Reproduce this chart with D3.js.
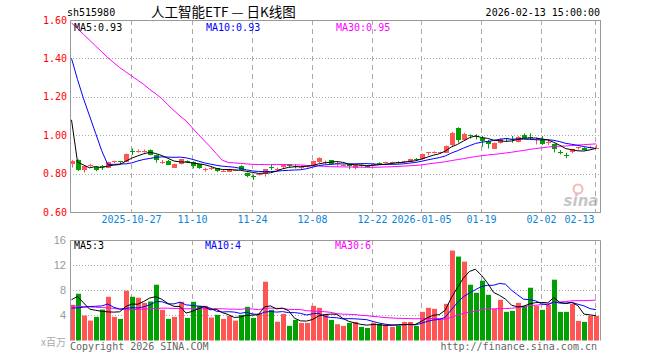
<!DOCTYPE html>
<html><head><meta charset="utf-8">
<script src="https://cdn.jsdelivr.net/npm/d3@7/dist/d3.min.js"></script>
<style>body{margin:0;background:#fff}</style>
</head><body><svg id="c" width="660" height="360"></svg>
<script>
const dates = [
"2025-10-13","2025-10-14","2025-10-15","2025-10-16","2025-10-17","2025-10-20","2025-10-21","2025-10-22","2025-10-23","2025-10-24",
"2025-10-27","2025-10-28","2025-10-29","2025-10-30","2025-10-31","2025-11-03","2025-11-04","2025-11-05","2025-11-06","2025-11-07",
"2025-11-10","2025-11-11","2025-11-12","2025-11-13","2025-11-14","2025-11-17","2025-11-18","2025-11-19","2025-11-20","2025-11-21",
"2025-11-24","2025-11-25","2025-11-26","2025-11-27","2025-11-28","2025-12-01","2025-12-02","2025-12-03","2025-12-04","2025-12-05",
"2025-12-08","2025-12-09","2025-12-10","2025-12-11","2025-12-12","2025-12-15","2025-12-16","2025-12-17","2025-12-18","2025-12-19",
"2025-12-22","2025-12-23","2025-12-24","2025-12-25","2025-12-26","2025-12-29","2025-12-30","2025-12-31",
"2026-01-05","2026-01-06","2026-01-07","2026-01-08","2026-01-09","2026-01-12","2026-01-13","2026-01-14","2026-01-15","2026-01-16",
"2026-01-19","2026-01-20","2026-01-21","2026-01-22","2026-01-23","2026-01-26","2026-01-27","2026-01-28","2026-01-29","2026-01-30",
"2026-02-02","2026-02-03","2026-02-04","2026-02-05","2026-02-06","2026-02-09","2026-02-10","2026-02-11","2026-02-12","2026-02-13"];

const open = [
0.850,0.871,0.819,0.842,0.833,0.838,0.831,0.862,0.864,0.862,
0.918,0.916,0.917,0.923,0.897,0.860,0.867,0.831,0.850,0.866,
0.862,0.848,0.824,0.829,0.827,0.812,0.810,0.817,0.840,0.801,
0.788,0.796,0.798,0.832,0.824,0.832,0.848,0.840,0.830,0.836,
0.841,0.857,0.861,0.869,0.852,0.843,0.848,0.827,0.843,0.841,
0.850,0.855,0.856,0.857,0.860,0.861,0.862,0.878,0.874,0.908,
0.913,0.911,0.911,0.950,1.039,0.975,1.001,0.998,0.984,0.970,
0.932,0.958,0.983,0.978,0.966,1.003,0.990,0.978,0.978,0.963,
0.954,0.912,0.895,0.909,0.934,0.935,0.938,0.930];
const high = [
0.871,0.874,0.840,0.851,0.836,0.845,0.862,0.867,0.866,0.905,
0.931,0.926,0.926,0.926,0.899,0.871,0.871,0.852,0.876,0.869,
0.864,0.850,0.831,0.836,0.829,0.819,0.826,0.822,0.843,0.805,
0.793,0.803,0.824,0.850,0.831,0.850,0.850,0.848,0.836,0.841,
0.868,0.885,0.868,0.871,0.862,0.848,0.850,0.848,0.848,0.843,
0.854,0.859,0.862,0.862,0.864,0.867,0.878,0.881,0.905,0.911,
0.916,0.914,0.947,1.018,1.041,1.013,1.004,1.005,0.996,0.975,
0.963,0.983,0.986,0.996,0.995,1.010,1.010,0.989,0.996,0.975,
0.956,0.923,0.909,0.928,0.940,0.937,0.945,0.952];
const low = [
0.831,0.813,0.805,0.836,0.812,0.819,0.829,0.855,0.850,0.860,
0.897,0.909,0.909,0.895,0.857,0.850,0.845,0.829,0.848,0.857,
0.827,0.825,0.810,0.819,0.808,0.810,0.808,0.813,0.817,0.781,
0.767,0.790,0.784,0.819,0.813,0.830,0.834,0.827,0.824,0.832,
0.839,0.855,0.850,0.848,0.836,0.841,0.822,0.822,0.836,0.836,
0.845,0.848,0.854,0.854,0.854,0.857,0.860,0.867,0.872,0.895,
0.905,0.902,0.909,0.940,0.961,0.973,0.983,0.978,0.940,0.931,
0.930,0.956,0.966,0.961,0.961,0.987,0.975,0.952,0.949,0.949,
0.911,0.900,0.880,0.906,0.926,0.921,0.932,0.928];
const close = [
0.866,0.819,0.840,0.845,0.815,0.836,0.860,0.864,0.861,0.902,
0.916,0.919,0.920,0.897,0.871,0.862,0.848,0.850,0.874,0.864,
0.843,0.827,0.826,0.831,0.810,0.814,0.824,0.819,0.819,0.784,
0.786,0.799,0.822,0.830,0.826,0.848,0.836,0.838,0.832,0.838,
0.866,0.880,0.863,0.850,0.855,0.845,0.836,0.845,0.841,0.839,
0.852,0.853,0.859,0.859,0.858,0.864,0.876,0.876,0.902,0.910,
0.915,0.913,0.945,1.010,0.975,1.004,0.999,0.996,0.966,0.952,
0.961,0.980,0.981,0.976,0.992,0.989,0.988,0.980,0.954,0.965,
0.928,0.910,0.893,0.926,0.936,0.923,0.940,0.934];
const volume = [
5.68,7.44,3.97,3.17,3.76,4.93,6.96,3.76,3.44,7.92,
6.96,6.80,6.00,6.21,8.88,4.88,3.44,3.76,6.16,3.60,
6.16,5.52,5.52,3.65,4.08,3.44,3.97,3.17,4.08,5.36,
3.60,4.35,9.36,4.88,2.99,4.24,2.33,3.28,2.80,2.80,
5.52,5.20,4.24,3.28,2.59,2.32,2.80,2.96,2.16,2.00,
2.80,2.64,2.48,2.16,2.32,2.96,2.96,2.32,4.56,5.20,
5.04,3.50,5.84,14.32,13.36,12.56,8.88,7.60,9.52,7.28,
5.04,6.48,4.56,4.72,6.00,5.52,8.40,5.52,4.88,5.68,
9.68,4.56,4.56,5.84,3.12,2.96,3.92,3.92];

const ma5Head = [1.08,0.86,0.845,0.83];
const ma10Head = [1.40,1.29,1.19,1.10,1.01,0.92,0.848,0.848,0.85];
const ma30Head = [1.585,1.555,1.525,1.495,1.465,1.435,1.405,1.378,1.352,1.330,
  1.308,1.286,1.264,1.238,1.215,1.190,1.158,1.128,1.100,1.075,
  1.040,1.005,0.972,0.940,0.905,0.870,0.858,0.856,0.853];
const vma5Head = [6.5,7.0,6.0,5.0];
const vma10Head = [5.15,5.2,5.3,5.4,5.45,5.5,5.8,5.3,5.0];
const vma30Head = [5.5,5.45,5.4,5.35,5.3,5.25,5.2,5.1,5.0,4.9,
  4.9,4.95,5.0,5.05,5.1,5.15,5.15,5.1,5.1,5.05,
  5.05,5.05,5.05,5.05,5.05,5.05,5.0,5.0,4.95];

const priceTicks = [0.6,0.8,1.0,1.2,1.4,1.6];
const volTicks = [4,8,12,16];
const dateTicks = ["2025-10-27","2025-11-10","2025-11-24","2025-12-08","2025-12-22","2026-01-05","2026-01-19","2026-02-02","2026-02-13"];
const dateTickLabels = ["2025-10-27","11-10","11-24","12-08","12-22","2026-01-05","01-19","02-02","02-13"];

const code = "sh515980", title = "人工智能ETF — 日K线图", stamp = "2026-02-13 15:00:00";

function movingAvg(arr, n, head){
  return arr.map((_, i) => i < head.length ? head[i] : d3.mean(arr.slice(i - n + 1, i + 1)));
}
const ma5 = movingAvg(close,5,ma5Head), ma10 = movingAvg(close,10,ma10Head), ma30 = movingAvg(close,30,ma30Head);
const vma5 = movingAvg(volume,5,vma5Head), vma10 = movingAvg(volume,10,vma10Head), vma30 = movingAvg(volume,30,vma30Head);

const RED = "#ff5555", GREEN = "#00a000", GRID = "#aaaaaa", BORDER = "#999999";
const MONO = "'DejaVu Sans Mono', monospace";
const svg = d3.select("#c");
const L = 70, R = 600.5, PT = 20, PB = 212, VT = 240, VB = 340.5;

const x = d3.scaleBand().domain(dates).range([L, R]).padding(0);
const y = d3.scaleLinear().domain([0.6, 1.6]).range([PB, PT]);
const yv = d3.scaleLinear().domain([0, 16]).range([VB, VT]);

const defs = svg.append("defs");
defs.append("clipPath").attr("id","cp").append("rect").attr("x",L).attr("y",PT).attr("width",R-L).attr("height",PB-PT);
defs.append("clipPath").attr("id","cv").append("rect").attr("x",L).attr("y",VT).attr("width",R-L).attr("height",VB-VT);

// header
svg.append("text").attr("x",67).attr("y",16).attr("font-family",MONO).attr("font-size",10).attr("fill","#000").text(code);
svg.append("text").attr("x",151).attr("y",17).attr("font-family","'Noto Sans CJK SC', sans-serif").attr("font-size",13.5).attr("fill","#000").attr("xml:space","preserve").text(title);
svg.append("text").attr("x",600).attr("y",16).attr("text-anchor","end").attr("font-family",MONO).attr("font-size",10).attr("fill","#000").text(stamp);

// horizontal grid
svg.append("g").selectAll("line").data(priceTicks.filter(t => t > 0.6 && t < 1.6)).join("line")
  .attr("x1",L).attr("x2",R).attr("y1",d => Math.round(y(d))+0.5).attr("y2",d => Math.round(y(d))+0.5)
  .attr("stroke",GRID).attr("stroke-dasharray","1,2");
svg.append("g").selectAll("line").data(volTicks.filter(t => t < 16)).join("line")
  .attr("x1",L).attr("x2",R).attr("y1",d => Math.round(yv(d))+0.5).attr("y2",d => Math.round(yv(d))+0.5)
  .attr("stroke",GRID).attr("stroke-dasharray","1,2");

// vertical dashed grid
const gx = d => Math.round(x(d)) + 1.5;
svg.append("g").selectAll("line").data(dateTicks).join("line")
  .attr("x1",gx).attr("x2",gx).attr("y1",PT).attr("y2",PB).attr("stroke",GRID).attr("stroke-dasharray","5,4");
svg.append("g").selectAll("line").data(dateTicks).join("line")
  .attr("x1",gx).attr("x2",gx).attr("y1",VT).attr("y2",VB).attr("stroke",GRID).attr("stroke-dasharray","5,4");

// sina watermark
const wm = svg.append("g").attr("opacity",0.55);
wm.append("circle").attr("cx",578).attr("cy",189).attr("r",4.5).attr("fill","none").attr("stroke","#f08080").attr("stroke-width",2);
wm.append("text").attr("x",581).attr("y",206).attr("text-anchor","middle").attr("font-family","'DejaVu Sans', sans-serif")
  .attr("font-style","italic").attr("font-weight","bold").attr("font-size",15).attr("fill","#999").text("sina");

// candles
const up = i => close[i] >= open[i];
const cg = svg.append("g");
dates.forEach((d, i) => {
  const col = up(i) ? RED : GREEN;
  const bx = Math.round(x(d));
  cg.append("rect").attr("x",bx+2).attr("width",1).attr("y",y(high[i])).attr("height",Math.max(1,y(low[i])-y(high[i]))).attr("fill",col);
  const top = y(Math.max(open[i],close[i])), bot = y(Math.min(open[i],close[i]));
  cg.append("rect").attr("x",bx).attr("width",5).attr("y",Math.round(top)).attr("height",Math.max(1,Math.round(bot-top))).attr("fill",col);
});

// volume bars
svg.append("g").selectAll("rect").data(dates).join("rect")
  .attr("x",d => Math.round(x(d))).attr("width",5)
  .attr("y",(d,i) => yv(volume[i])).attr("height",(d,i) => VB - yv(volume[i]))
  .attr("fill",(d,i) => up(i) ? RED : GREEN);

// MA lines
const mx = d => x(d) + 1.5;
function drawLine(vals, sc, color, clip){
  const ln = d3.line().x((v,i) => mx(dates[i])).y(v => sc(v));
  svg.append("path").attr("d",ln(vals)).attr("fill","none").attr("stroke",color).attr("stroke-width",1).attr("clip-path",`url(#${clip})`);
}
drawLine(ma30, y, "#ff00ff", "cp");
drawLine(ma10, y, "#0000ff", "cp");
drawLine(ma5, y, "#000000", "cp");
drawLine(vma30, yv, "#ff00ff", "cv");
drawLine(vma10, yv, "#0000ff", "cv");
drawLine(vma5, yv, "#000000", "cv");

// borders
svg.append("rect").attr("x",L+0.5).attr("y",PT+0.5).attr("width",R-L-0.5).attr("height",PB-PT).attr("fill","none").attr("stroke",BORDER);
svg.append("path").attr("d",`M${L+0.5},${VB}V${VT+0.5}H${R}V${VB}`).attr("fill","none").attr("stroke",BORDER);

// legends
const fmt2 = d3.format(".2f");
const last = a => a[a.length-1];
const leg = [["MA5:"+fmt2(last(ma5)),"#000",74],["MA10:"+fmt2(last(ma10)),"#0000ff",206],["MA30:"+fmt2(last(ma30)),"#ff00ff",336]];
svg.append("g").selectAll("text").data(leg).join("text").attr("x",d=>d[2]).attr("y",31).attr("font-family",MONO).attr("font-size",10).attr("fill",d=>d[1]).text(d=>d[0]);
const vleg = [["MA5:"+Math.floor(last(vma5)),"#000",74],["MA10:"+Math.floor(last(vma10)),"#0000ff",205],["MA30:"+Math.floor(last(vma30)),"#ff00ff",335]];
svg.append("g").selectAll("text").data(vleg).join("text").attr("x",d=>d[2]).attr("y",249).attr("font-family",MONO).attr("font-size",10).attr("fill",d=>d[1]).text(d=>d[0]);

// price axis labels
svg.append("g").selectAll("text").data(priceTicks).join("text")
  .attr("x",67).attr("y",d => y(d)+3.5).attr("text-anchor","end").attr("font-family",MONO).attr("font-size",10).attr("fill","#ff0000")
  .text(d => fmt2(d));
// volume axis labels
svg.append("g").selectAll("text").data(volTicks).join("text")
  .attr("x",66).attr("y",d => yv(d)+3.5).attr("text-anchor","end").attr("font-family","'Liberation Sans', Arial, sans-serif").attr("font-size",11).attr("fill","#999")
  .text(d => d);
svg.append("text").attr("x",66).attr("y",346).attr("text-anchor","end").attr("font-family","'Noto Sans CJK SC', sans-serif").attr("font-size",10).attr("fill","#aaa").text("x百万");

// date labels
svg.append("g").selectAll("text").data(dateTicks).join("text")
  .attr("x",(d,i) => i === dateTicks.length-1 ? gx(d)-1 : gx(d))
  .attr("text-anchor",(d,i) => i === dateTicks.length-1 ? "end" : "middle")
  .attr("y",223).attr("font-family",MONO).attr("font-size",10).attr("fill","#0a84d8")
  .text((d,i) => dateTickLabels[i]);

// footer
svg.append("text").attr("x",70).attr("y",350).attr("font-family",MONO).attr("font-size",10).attr("fill","#666").text("Copyright 2026 SINA.COM");
svg.append("text").attr("x",597).attr("y",350).attr("text-anchor","end").attr("font-family",MONO).attr("font-size",10).attr("fill","#666").text("http://finance.sina.com.cn");
</script></body></html>
